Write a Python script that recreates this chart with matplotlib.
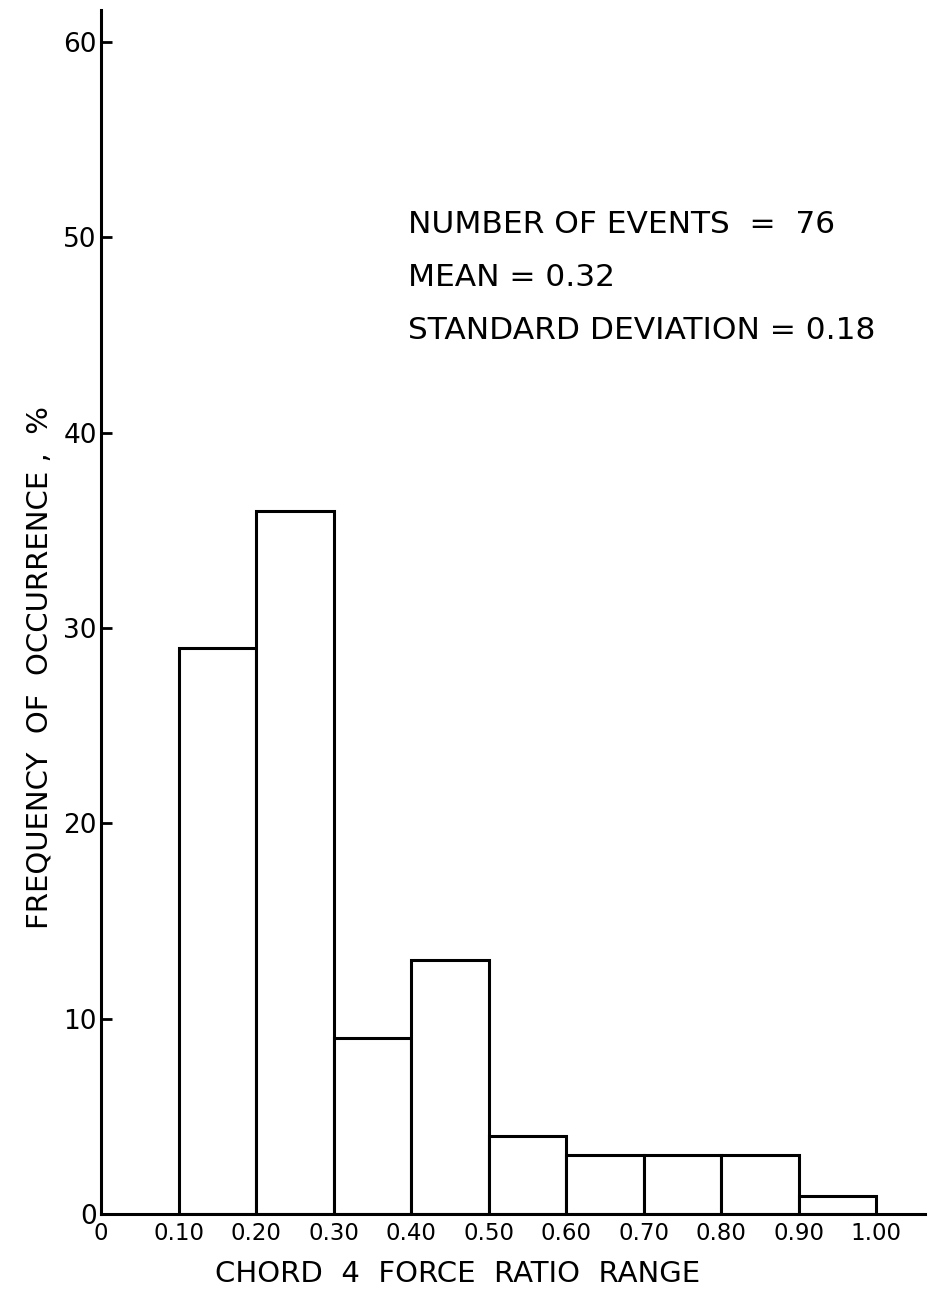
import numpy as np
import matplotlib.pyplot as plt

# histogram bins (left edges) and frequency of occurrence, %
bin_left = [0.10, 0.20, 0.30, 0.40, 0.50, 0.60, 0.70, 0.80, 0.90]
freq_pct = [29, 36, 9, 13, 4, 3, 3, 3, 0.9]
bin_width = 0.10

x_ticks = [0, 0.1, 0.2, 0.3, 0.4, 0.5, 0.6, 0.7, 0.8, 0.9, 1.0]
x_labels = ["0", "0.10", "0.20", "0.30", "0.40", "0.50", "0.60", "0.70", "0.80", "0.90", "1.00"]
y_ticks = [0, 10, 20, 30, 40, 50, 60]

stats_text = ["NUMBER OF EVENTS  =  76", "MEAN = 0.32", "STANDARD DEVIATION = 0.18"]

plt.rcParams['font.family'] = ['DejaVu Sans']

fig = plt.figure(figsize=(9.29, 12.91), dpi=100)
ax = fig.add_axes([0.1087, 0.0596, 0.887, 0.9327])

ax.bar(bin_left, freq_pct, width=bin_width, align='edge',
       facecolor='white', edgecolor='black', linewidth=2.2)

ax.set_xlim(0, 1.063)
ax.set_ylim(0, 61.65)

for s in ['top', 'right']:
    ax.spines[s].set_visible(False)
for s in ['left', 'bottom']:
    ax.spines[s].set_linewidth(2.2)

ax.set_xticks(x_ticks)
ax.set_xticklabels(x_labels, fontsize=16.5)
ax.tick_params(axis='x', length=0, pad=6)
ax.set_yticks(y_ticks)
ax.set_yticklabels([str(v) for v in y_ticks], fontsize=19)
ax.tick_params(axis='y', direction='in', length=8, width=2, pad=3)

ax.set_xlabel("CHORD  4  FORCE  RATIO  RANGE", fontsize=21)
ax.xaxis.set_label_coords(0.433, -0.038)
ax.set_ylabel("FREQUENCY  OF  OCCURRENCE ,  %", fontsize=21)
ax.yaxis.set_label_coords(-0.058, 0.454)

y_positions = [0.815, 0.771, 0.727]
for txt, yp in zip(stats_text, y_positions):
    ax.text(0.373, yp, txt, transform=ax.transAxes, fontsize=22.5, va='baseline')

fig.savefig("out.png", dpi=100)
